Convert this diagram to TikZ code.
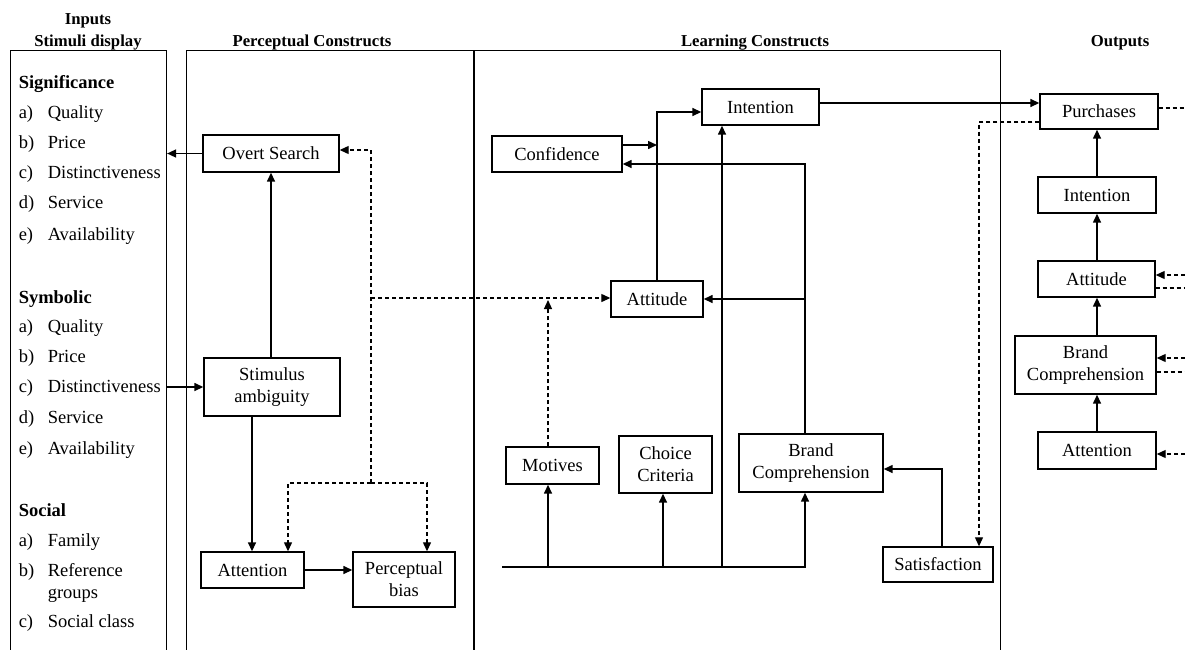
\documentclass[tikz,border=0pt]{standalone}
\usepackage{fontspec}
\setmainfont{Liberation Serif}
\usetikzlibrary{arrows.meta,calc}
\begin{document}
\begin{tikzpicture}[x=1pt,y=-1pt,line width=1.5pt,
  every node/.style={font=\fontsize{18.5}{22}\selectfont, inner sep=0pt},
  box/.style={draw, align=center, line width=1.4pt},
  frame/.style={draw, line width=1.1pt},
  arr/.style={-{Triangle[length=9pt,width=8pt]}},
  dsh/.style={line width=1.2pt, dash pattern=on 4pt off 3pt},
  head/.style={font=\fontsize{16.7}{20}\selectfont\bfseries, anchor=base},
  grp/.style={font=\fontsize{18.5}{22}\selectfont\bfseries, anchor=base west},
  item/.style={anchor=base west}]

\useasboundingbox (0,0) rectangle (1185,649);
\clip (0,0) rectangle (1185,649);

% column frames
\node[frame, minimum width=156, minimum height=620, anchor=north west] (inbox) at (10,50) {};
\node[frame, minimum width=814, minimum height=620, anchor=north west] (mainbox) at (186,50) {};
\coordinate (divtop) at (474,50);
\draw[line width=1.1pt] (divtop) -- (divtop |- mainbox.south);

% column headings
\node[head] (hIn) at (88,24) {Inputs};
\node[head] (hStim) at (88,46) {Stimuli display};
\node[head] (hPer) at (312,46) {Perceptual Constructs};
\node[head] (hLrn) at (755,46) {Learning Constructs};
\node[head] (hOut) at (1120,46) {Outputs};

% stimuli lists
\node[grp] (gSig) at (18,88) {Significance};
\foreach \yy/\ll/\tt [count=\i] in {118/a)/Quality,148/b)/Price,178/c)/Distinctiveness,208/d)/Service,240/e)/Availability}{
  \node[item] (sigL\i) at (18,\yy) {\ll};
  \node[item] (sigT\i) at (47,\yy) {\tt};
}
\node[grp] (gSym) at (18,303) {Symbolic};
\foreach \yy/\ll/\tt [count=\i] in {332/a)/Quality,362/b)/Price,392/c)/Distinctiveness,423/d)/Service,454/e)/Availability}{
  \node[item] (symL\i) at (18,\yy) {\ll};
  \node[item] (symT\i) at (47,\yy) {\tt};
}
\node[grp] (gSoc) at (18,516) {Social};
\node[item] (socL1) at (18,546) {a)};
\node[item] (socT1) at (47,546) {Family};
\node[item] (socL2) at (18,576) {b)};
\node[item] (socT2) at (47,576) {Reference};
\node[item] (socT2b) at (47,598) {groups};
\node[item] (socL3) at (18,627) {c)};
\node[item] (socT3) at (47,627) {Social class};

% perceptual constructs
\node[box, minimum width=136, minimum height=37] (overt) at (271,153.5) {Overt Search};
\node[box, minimum width=136, minimum height=58] (stim) at (272,387) {Stimulus\\ambiguity};
\node[box, minimum width=103, minimum height=36] (attP) at (252.5,570) {Attention};
\node[box, minimum width=102, minimum height=55] (bias) at (404,579.5) {Perceptual\\bias};

% learning constructs
\node[box, minimum width=117, minimum height=36] (intL) at (760.5,107) {Intention};
\node[box, minimum width=130, minimum height=36] (conf) at (557,154) {Confidence};
\node[box, minimum width=92, minimum height=36] (attL) at (657,299) {Attitude};
\node[box, minimum width=93, minimum height=37] (mot) at (552.5,465.5) {Motives};
\node[box, minimum width=93, minimum height=57] (choice) at (665.5,464.5) {Choice\\Criteria};
\node[box, minimum width=144, minimum height=58] (bcL) at (811,463) {Brand\\Comprehension};
\node[box, minimum width=110, minimum height=35] (sat) at (938,564.5) {Satisfaction};

% outputs
\node[box, minimum width=118, minimum height=35] (purch) at (1099,111.5) {Purchases};
\node[box, minimum width=118, minimum height=36] (intO) at (1097,195) {Intention};
\node[box, minimum width=117, minimum height=36] (attO) at (1096.5,279) {Attitude};
\node[box, minimum width=141, minimum height=58] (bcO) at (1085.5,365) {Brand\\Comprehension};
\node[box, minimum width=118, minimum height=37] (attnO) at (1097,450.5) {Attention};

% perceptual links
\coordinate (ax) at (252,0);
\draw[arr] (overt.west) -- (overt.west -| inbox.east);
\draw[arr] (overt.south |- stim.north) -- (overt.south);
\draw[arr] (stim.west -| inbox.east) -- (stim.west);
\draw[arr] (ax |- stim.south) -- (ax |- attP.north);
\draw[arr] (attP.east) -- (attP.east -| bias.west);

% feedback (dashed) into perception
\coordinate (dtop) at (371,150);
\coordinate (dmid) at (371,298);
\coordinate (dbot) at (371,483);
\coordinate (dl) at (288,483);
\coordinate (dr) at (427,483);
\draw[dsh, arr] (dbot) -- (dtop) -- (dtop -| overt.east);
\draw[dsh, arr] (dbot) -- (dl) -- (dl |- attP.north);
\draw[dsh, arr] (dbot) -- (dr) -- (dr |- bias.north);
\draw[dsh, arr] (dmid) -- (dmid -| attL.west);
\coordinate (mx) at (548,0);
\draw[dsh, arr] (mx |- mot.north) -- ($(mx |- dmid)+(0,2)$);

% learning links
\coordinate (jI) at (657,112);
\coordinate (jC) at (657,145);
\coordinate (jB) at (805,164);
\coordinate (bl) at (502,567);
\coordinate (br) at (805,567);
\coordinate (cx) at (663,0);
\coordinate (ix) at (722,0);
\coordinate (sx) at (942,469);
\draw[arr] (attL.north) -- (jI) -- (jI -| intL.west);
\draw[arr] (conf.east |- jC) -- (jC);
\draw[arr] (jB |- bcL.north) -- (jB) -- (jB -| conf.east);
\draw[arr] (jB |- attL.east) -- (attL.east);
\draw[arr] (bl) -- (br) -- (br |- bcL.south);
\draw[arr] (mx |- bl) -- (mx |- mot.south);
\draw[arr] (cx |- bl) -- (cx |- choice.south);
\draw[arr] (ix |- bl) -- (ix |- intL.south);
\draw[arr] (sx |- sat.north) -- (sx) -- (sx -| bcL.east);

% to the outputs
\coordinate (pI) at (819,103);
\draw[arr] (pI -| intL.east) -- (pI -| purch.west);
\coordinate (pf) at (979,122);
\draw[dsh, arr] (pf -| purch.west) -- (pf) -- (pf |- sat.north);

% output chain
\coordinate (ox) at (1097,0);
\draw[arr] (ox |- attnO.north) -- (ox |- bcO.south);
\draw[arr] (ox |- bcO.north) -- (ox |- attO.south);
\draw[arr] (ox |- attO.north) -- (ox |- intO.south);
\draw[arr] (ox |- intO.north) -- (ox |- purch.south);

% dashed loops leaving the right edge
\coordinate (edge) at (1185,0);
\coordinate (e1) at (0,108);
\coordinate (e2) at (0,275);
\coordinate (e3) at (0,288);
\coordinate (e4) at (0,358);
\coordinate (e5) at (0,372);
\coordinate (e6) at (0,454);
\draw[dsh] (e1 -| purch.east) -- (e1 -| edge);
\draw[dsh, arr] (e2 -| edge) -- (e2 -| attO.east);
\draw[dsh] (e3 -| attO.east) -- (e3 -| edge);
\draw[dsh, arr] (e4 -| edge) -- (e4 -| bcO.east);
\draw[dsh] (e5 -| bcO.east) -- (e5 -| edge);
\draw[dsh, arr] (e6 -| edge) -- (e6 -| attnO.east);
\end{tikzpicture}
\end{document}
